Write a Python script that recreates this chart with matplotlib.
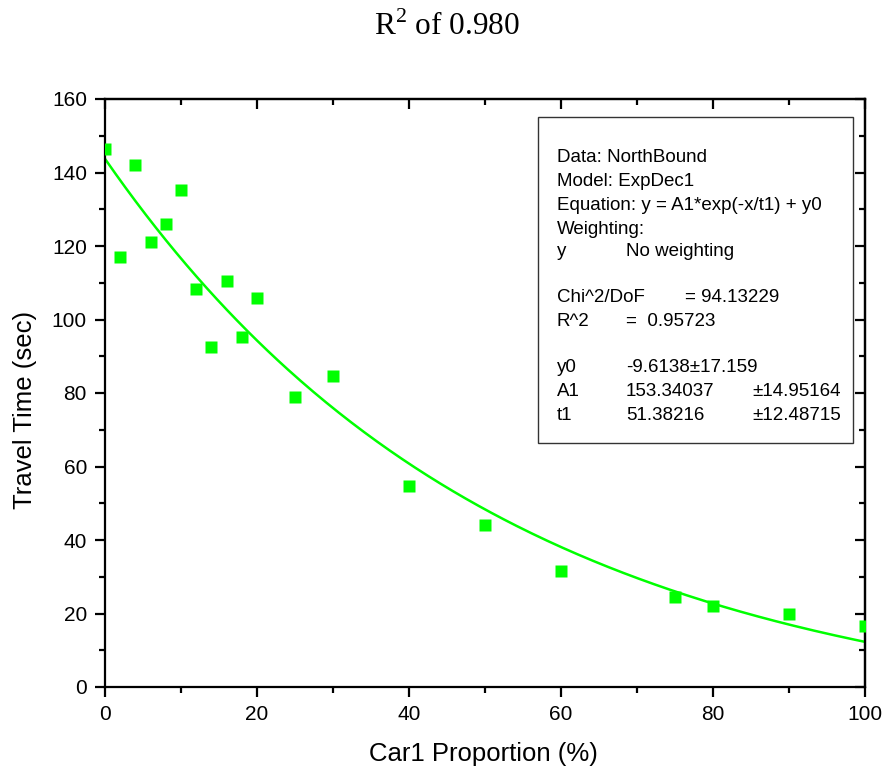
import numpy as np
import matplotlib
matplotlib.use('Agg')
import matplotlib.pyplot as plt
from matplotlib.patches import Rectangle
from matplotlib.ticker import MultipleLocator

plt.rcParams['font.family'] = ['Liberation Sans', 'DejaVu Sans']
plt.rcParams['mathtext.fontset'] = 'custom'
plt.rcParams['mathtext.rm'] = 'Liberation Serif'

# measured points (Car1 proportion %, travel time sec)
car1_prop = [0, 2, 4, 6, 8, 10, 12, 14, 16, 18, 20, 25, 30, 40, 50, 60, 75, 80, 90, 100]
travel_time = [146.4, 117.0, 142.0, 121.1, 126.0, 135.3, 108.3, 92.6, 110.5, 95.2,
               105.9, 78.9, 84.6, 54.8, 44.2, 31.7, 24.6, 22.1, 20.0, 16.6]

# ExpDec1 fit parameters
y0 = -9.6138
A1 = 153.34037
t1 = 51.38216

box_lines = [
    ('Data: NorthBound', None, None),
    ('Model: ExpDec1', None, None),
    ('Equation: y = A1*exp(-x/t1) + y0', None, None),
    ('Weighting:', None, None),
    ('y', 'No weighting', None),
    ('', None, None),
    ('Chi^2/DoF', None, '= 94.13229'),
    ('R^2', '=  0.95723', None),
    ('', None, None),
    ('y0', '-9.6138\u00b117.159', None),
    ('A1', '153.34037', '\u00b114.95164'),
    ('t1', '51.38216', '\u00b112.48715'),
]

W, H = 885, 770
fig = plt.figure(figsize=(W / 100, H / 100), dpi=100)


def fx(px):
    return px / W


def fy(py):
    return 1 - py / H


ax = fig.add_axes([fx(105), fy(687), fx(865) - fx(105), fy(99) - fy(687)])

xs = np.linspace(0, 100, 300)
ax.plot(xs, A1 * np.exp(-xs / t1) + y0, color='#00ff00', lw=1.8, zorder=2)
ax.plot(car1_prop, travel_time, 's', color='#00ff00', ms=8.3, mec='none', zorder=3)

ax.set_xlim(0, 100)
ax.set_ylim(0, 160)
ax.xaxis.set_major_locator(MultipleLocator(20))
ax.xaxis.set_minor_locator(MultipleLocator(10))
ax.yaxis.set_major_locator(MultipleLocator(20))
ax.yaxis.set_minor_locator(MultipleLocator(10))

for s in ax.spines.values():
    s.set_linewidth(1.6)

ax.tick_params(which='both', direction='out', top=False, right=False, width=1.6, labelsize=15, pad=6)
ax.tick_params(which='major', length=7)
ax.tick_params(which='minor', length=4)

# inward ticks on the top and right edges
sec_x = ax.secondary_xaxis('top')
sec_x.xaxis.set_major_locator(MultipleLocator(20))
sec_x.xaxis.set_minor_locator(MultipleLocator(10))
sec_x.tick_params(which='both', direction='in', width=1.6, labeltop=False)
sec_x.tick_params(which='major', length=7)
sec_x.tick_params(which='minor', length=4)
sec_x.spines['top'].set_linewidth(1.6)
sec_y = ax.secondary_yaxis('right')
sec_y.yaxis.set_major_locator(MultipleLocator(20))
sec_y.yaxis.set_minor_locator(MultipleLocator(10))
sec_y.tick_params(which='both', direction='in', width=1.6, labelright=False)
sec_y.tick_params(which='major', length=7)
sec_y.tick_params(which='minor', length=4)
sec_y.spines['right'].set_linewidth(1.6)

fig.text(fx(483), fy(754), 'Car1 Proportion (%)', fontsize=18.5, ha='center', va='center')
fig.text(fx(25), fy(410), 'Travel Time (sec)', fontsize=18.5, ha='center', va='center', rotation=90)

fig.text(fx(447), fy(27), r'R$^{2}$ of 0.980', fontsize=22.5, family='Liberation Serif',
         ha='center', va='center')

# fit result box
fig.patches.append(Rectangle((fx(538), fy(443)), fx(853) - fx(538), fy(117) - fy(443),
                             transform=fig.transFigure, fill=False, ec='#333333', lw=1.0))
line_y = [158, 182, 206, 229, 252, 275, 298, 322, 345, 368, 392, 415]
for (c1, c2, c3), py in zip(box_lines, line_y):
    if c1:
        fig.text(fx(557), fy(py), c1, fontsize=13.5, va='center')
    if c2:
        fig.text(fx(626), fy(py), c2, fontsize=13.5, va='center')
    if c3:
        xpos = 685 if c1 == 'Chi^2/DoF' else 752
        fig.text(fx(xpos), fy(py), c3, fontsize=13.5, va='center')

fig.savefig('out.png', dpi=100)
